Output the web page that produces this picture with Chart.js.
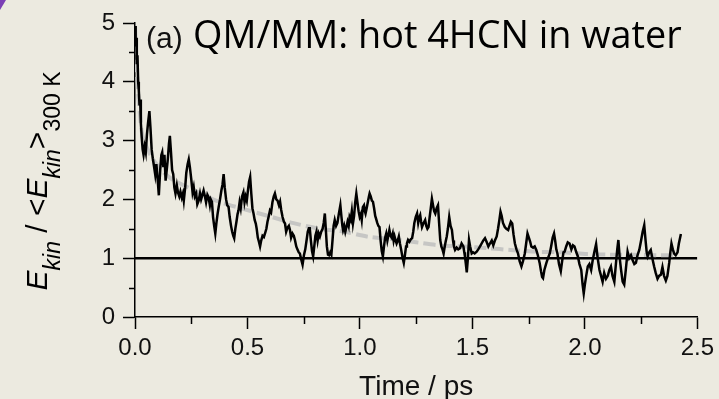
<!DOCTYPE html>
<html>
<head>
<meta charset="utf-8">
<title>QM/MM: hot 4HCN in water</title>
<script src="https://cdn.jsdelivr.net/npm/chart.js@4.4.0/dist/chart.umd.min.js"></script>
<style>
    html, body { margin: 0; padding: 0; background: #eceae0; }
    .wrap { position: relative; width: 719px; height: 399px; overflow: hidden; }
    .corner { position: absolute; left: 0; top: 0; width: 6px; height: 10px; background: #7b3fb5;
              clip-path: polygon(0 0, 100% 0, 0 100%); }
</style>
</head>
<body>
<div class="wrap">
    <canvas id="kinChart" width="719" height="399"></canvas>
    <div class="corner"></div>
</div>
<script>
// Kinetic energy ratio of hot 4HCN in water (QM/MM)
const timePs = [
    0.000, 0.003, 0.006, 0.008, 0.011, 0.014, 0.017, 0.020, 0.023, 0.026, 0.030, 0.034, 0.038, 0.043, 0.048, 0.053,
    0.058, 0.064, 0.069, 0.074, 0.079, 0.085, 0.090, 0.095, 0.100, 0.106, 0.112, 0.117, 0.121, 0.126, 0.131, 0.136,
    0.141, 0.146, 0.151, 0.155, 0.160, 0.165, 0.170, 0.175, 0.180, 0.186, 0.191, 0.197, 0.202, 0.208, 0.213, 0.217,
    0.223, 0.228, 0.234, 0.239, 0.244, 0.250, 0.256, 0.261, 0.266, 0.272, 0.277, 0.283, 0.289, 0.294, 0.300, 0.305,
    0.311, 0.316, 0.322, 0.327, 0.333, 0.337, 0.342, 0.347, 0.352, 0.357, 0.362, 0.367, 0.372, 0.378, 0.384, 0.389,
    0.394, 0.399, 0.405, 0.410, 0.416, 0.421, 0.427, 0.432, 0.437, 0.441, 0.446, 0.451, 0.456, 0.460, 0.465, 0.470,
    0.476, 0.482, 0.487, 0.492, 0.497, 0.502, 0.507, 0.512, 0.517, 0.522, 0.527, 0.532, 0.537, 0.541, 0.546, 0.551,
    0.556, 0.561, 0.567, 0.573, 0.578, 0.584, 0.589, 0.595, 0.600, 0.605, 0.611, 0.617, 0.622, 0.628, 0.634, 0.640,
    0.645, 0.650, 0.656, 0.662, 0.667, 0.672, 0.678, 0.684, 0.689, 0.694, 0.700, 0.706, 0.711, 0.717, 0.722, 0.728,
    0.733, 0.739, 0.745, 0.751, 0.757, 0.763, 0.768, 0.773, 0.777, 0.782, 0.787, 0.792, 0.797, 0.802, 0.807, 0.812,
    0.817, 0.822, 0.828, 0.834, 0.839, 0.844, 0.849, 0.853, 0.858, 0.863, 0.868, 0.873, 0.878, 0.883, 0.888, 0.894,
    0.900, 0.906, 0.913, 0.918, 0.922, 0.925, 0.930, 0.935, 0.940, 0.945, 0.950, 0.954, 0.959, 0.964, 0.969, 0.974,
    0.979, 0.984, 0.989, 0.994, 0.999, 1.004, 1.008, 1.013, 1.018, 1.022, 1.025, 1.030, 1.035, 1.040, 1.043, 1.048,
    1.053, 1.058, 1.063, 1.068, 1.072, 1.077, 1.082, 1.087, 1.092, 1.097, 1.102, 1.107, 1.112, 1.117, 1.122, 1.127,
    1.131, 1.136, 1.141, 1.146, 1.150, 1.154, 1.158, 1.163, 1.168, 1.173, 1.178, 1.183, 1.190, 1.195, 1.200, 1.205,
    1.209, 1.214, 1.220, 1.226, 1.232, 1.237, 1.242, 1.248, 1.254, 1.259, 1.263, 1.268, 1.272, 1.276, 1.281, 1.286,
    1.290, 1.295, 1.300, 1.305, 1.310, 1.315, 1.320, 1.325, 1.330, 1.335, 1.341, 1.347, 1.352, 1.357, 1.362, 1.367,
    1.372, 1.377, 1.381, 1.386, 1.391, 1.397, 1.403, 1.409, 1.414, 1.418, 1.423, 1.430, 1.437, 1.445, 1.452, 1.460,
    1.464, 1.467, 1.471, 1.475, 1.480, 1.485, 1.490, 1.497, 1.503, 1.510, 1.519, 1.526, 1.534, 1.541, 1.548, 1.556,
    1.563, 1.571, 1.578, 1.586, 1.593, 1.600, 1.608, 1.614, 1.620, 1.625, 1.630, 1.636, 1.644, 1.651, 1.659, 1.665,
    1.671, 1.677, 1.683, 1.689, 1.696, 1.703, 1.710, 1.718, 1.725, 1.733, 1.739, 1.745, 1.751, 1.757, 1.762, 1.770,
    1.777, 1.784, 1.791, 1.799, 1.805, 1.810, 1.814, 1.820, 1.829, 1.836, 1.844, 1.850, 1.857, 1.863, 1.868, 1.873,
    1.878, 1.885, 1.893, 1.899, 1.905, 1.910, 1.917, 1.924, 1.932, 1.940, 1.947, 1.954, 1.962, 1.969, 1.976, 1.984,
    1.990, 1.995, 2.000, 2.006, 2.013, 2.020, 2.028, 2.035, 2.042, 2.050, 2.057, 2.065, 2.072, 2.079, 2.086, 2.094,
    2.102, 2.109, 2.116, 2.123, 2.131, 2.138, 2.144, 2.149, 2.155, 2.161, 2.168, 2.175, 2.182, 2.190, 2.197, 2.205,
    2.212, 2.220, 2.227, 2.234, 2.242, 2.250, 2.257, 2.264, 2.270, 2.275, 2.279, 2.286, 2.293, 2.300, 2.308, 2.315,
    2.323, 2.330, 2.338, 2.345, 2.352, 2.360, 2.367, 2.375, 2.380, 2.385, 2.391, 2.397, 2.404, 2.412, 2.418, 2.427
];
const kinRatio = [
    4.95, 4.60, 4.75, 4.30, 4.45, 4.00, 3.85, 3.60, 3.70, 3.30, 3.05, 2.85, 2.76, 2.90, 2.80, 3.10,
    3.30, 3.50, 3.20, 2.85, 2.70, 2.55, 2.42, 2.60, 2.38, 2.07, 2.50, 2.75, 2.80, 2.55, 2.76, 2.32,
    2.50, 2.69, 2.95, 3.08, 2.80, 2.50, 2.43, 2.20, 2.10, 2.24, 2.12, 2.05, 2.13, 2.03, 2.10, 1.98,
    2.20, 2.45, 2.60, 2.68, 2.55, 2.35, 2.12, 2.21, 2.05, 2.10, 1.92, 1.98, 2.10, 2.00, 2.08, 2.15,
    2.05, 1.95, 2.08, 2.04, 1.90, 2.00, 1.96, 1.70, 1.55, 1.42, 1.60, 1.75, 1.87, 2.00, 2.15, 2.25,
    2.43, 2.20, 2.00, 1.90, 1.87, 1.70, 1.55, 1.45, 1.38, 1.34, 1.50, 1.62, 1.75, 1.81, 1.95, 1.85,
    2.05, 2.12, 1.95, 2.05, 1.98, 2.15, 2.30, 2.38, 2.10, 1.85, 1.76, 1.65, 1.59, 1.50, 1.35, 1.28,
    1.20, 1.30, 1.38, 1.36, 1.42, 1.50, 1.62, 1.72, 1.81, 1.78, 1.95, 2.05, 2.10, 2.00, 1.98, 1.90,
    1.96, 1.82, 1.70, 1.62, 1.59, 1.45, 1.52, 1.55, 1.48, 1.35, 1.42, 1.38, 1.31, 1.20, 1.15, 1.10,
    1.08, 0.98, 0.89, 1.05, 1.15, 1.31, 1.45, 1.51, 1.51, 1.30, 1.12, 1.03, 1.20, 1.38, 1.45, 1.30,
    1.42, 1.37, 1.45, 1.50, 1.60, 1.76, 1.45, 1.20, 1.06, 1.05, 1.10, 1.06, 1.30, 1.55, 1.65, 1.55,
    1.60, 1.75, 1.90, 1.70, 1.55, 1.48, 1.55, 1.45, 1.53, 1.62, 1.55, 1.70, 1.65, 1.80, 1.59, 1.72,
    1.95, 2.10, 1.95, 1.80, 1.70, 1.75, 1.65, 1.87, 1.90, 1.80, 1.76, 1.85, 1.95, 2.05, 2.10, 2.05,
    1.98, 1.96, 1.85, 1.72, 1.67, 1.60, 1.55, 1.53, 1.30, 1.12, 1.03, 1.20, 1.35, 1.42, 1.30, 1.40,
    1.48, 1.38, 1.35, 1.42, 1.30, 1.37, 1.31, 1.25, 1.30, 1.37, 1.25, 1.15, 1.00, 0.92, 1.05, 1.20,
    1.25, 1.31, 1.28, 1.32, 1.34, 1.45, 1.60, 1.70, 1.76, 1.60, 1.68, 1.73, 1.62, 1.53, 1.58, 1.62,
    1.65, 1.55, 1.50, 1.53, 1.70, 1.85, 2.01, 1.90, 1.80, 1.76, 1.85, 1.90, 1.60, 1.31, 1.20, 1.15,
    1.08, 1.20, 1.28, 1.37, 1.50, 1.70, 1.55, 1.48, 1.30, 1.20, 1.14, 1.18, 1.15, 1.17, 1.25, 1.20,
    1.10, 1.03, 0.90, 0.76, 1.00, 1.31, 1.20, 1.08, 1.10, 1.08, 1.11, 1.15, 1.20, 1.25, 1.30, 1.34,
    1.28, 1.20, 1.25, 1.30, 1.22, 1.30, 1.37, 1.50, 1.65, 1.79, 1.72, 1.60, 1.53, 1.50, 1.48, 1.55,
    1.62, 1.59, 1.40, 1.25, 1.15, 1.08, 0.95, 0.86, 0.95, 1.08, 1.25, 1.42, 1.35, 1.28, 1.20, 1.18,
    1.20, 1.14, 1.05, 0.92, 0.78, 0.68, 0.66, 0.80, 0.92, 1.00, 1.08, 1.20, 1.35, 1.42, 1.30, 1.15,
    1.08, 0.90, 0.78, 0.95, 1.10, 1.11, 1.20, 1.27, 1.25, 1.15, 1.22, 1.20, 1.10, 1.03, 0.90, 0.80,
    0.55, 0.40, 0.55, 0.70, 0.86, 0.90, 0.80, 0.97, 1.10, 1.24, 1.00, 0.80, 0.70, 0.60, 0.75, 0.65,
    0.70, 0.80, 0.86, 0.70, 0.60, 0.90, 1.15, 1.31, 1.00, 0.80, 0.60, 0.55, 0.80, 1.11, 1.00, 1.05,
    0.97, 0.90, 0.92, 1.05, 1.14, 1.30, 1.45, 1.56, 1.30, 1.10, 1.03, 1.10, 1.14, 1.00, 0.86, 0.75,
    0.65, 0.70, 0.72, 0.85, 0.70, 0.62, 0.70, 0.92, 1.10, 1.25, 1.15, 1.08, 1.05, 1.10, 1.25, 1.41
];

// Grey dashed fit curve
const fitTimePs = [0.000, 0.005, 0.010, 0.015, 0.022, 0.030, 0.040, 0.060, 0.080, 0.100, 0.130, 0.170, 0.250,
    0.360, 0.480, 0.600, 0.700, 0.820, 0.930, 1.030, 1.150, 1.250, 1.350, 1.460, 1.570, 1.670, 1.790, 1.900,
    2.010, 2.110, 2.220, 2.330, 2.400];
const fitRatio = [4.95, 4.50, 4.10, 3.75, 3.45, 3.15, 3.00, 2.82, 2.68, 2.58, 2.45, 2.33, 2.18,
    1.98, 1.84, 1.71, 1.60, 1.50, 1.45, 1.37, 1.32, 1.27, 1.22, 1.20, 1.17, 1.14, 1.11, 1.10,
    1.07, 1.06, 1.06, 1.05, 1.05];

// Reference level (equilibrium at 300 K)
const refLevel = 1;
const refSpanPs = [0, 2.5];

// Axis ticks
const xTickValues = [0, 0.5, 1.0, 1.5, 2.0, 2.5];
const xMinorTicks = [0.25, 0.75, 1.25, 1.75, 2.25];
const yTickValues = [0, 1, 2, 3, 4, 5];
const yMinorTicks = [0.5, 1.5, 2.5, 3.5, 4.5];

const FONT = '"Liberation Sans", Arial, sans-serif';

// Short ticks between the labelled ones
const minorTicksPlugin = {
    id: 'minorTicks',
    afterDraw(chart) {
        const ctx = chart.ctx;
        const xs = chart.scales.x;
        const ys = chart.scales.y;
        ctx.save();
        ctx.strokeStyle = '#000';
        ctx.lineWidth = 1.5;
        ctx.beginPath();
        xMinorTicks.forEach(v => {
            const px = Math.round(xs.getPixelForValue(v)) + 0.5;
            ctx.moveTo(px, xs.top);
            ctx.lineTo(px, xs.top + 7);
        });
        yMinorTicks.forEach(v => {
            const py = Math.round(ys.getPixelForValue(v)) + 0.5;
            ctx.moveTo(ys.right, py);
            ctx.lineTo(ys.right - 6, py);
        });
        ctx.stroke();
        ctx.restore();
    }
};

// Rotated y title with italics and subscripts
const yTitlePlugin = {
    id: 'yTitle',
    afterDraw(chart) {
        const ctx = chart.ctx;
        const parts = [
            { text: 'E', size: 30, italic: true, sub: false },
            { text: 'kin', size: 23, italic: true, sub: true },
            { text: ' / <', size: 30, italic: false, sub: false },
            { text: 'E', size: 30, italic: true, sub: false },
            { text: 'kin', size: 23, italic: true, sub: true },
            { text: '>', size: 30, italic: false, sub: false },
            { text: '300 K', size: 23, italic: false, sub: true }
        ];
        const fontOf = p => (p.italic ? 'italic ' : '') + p.size + 'px ' + FONT;
        let total = 0;
        parts.forEach(p => {
            ctx.font = fontOf(p);
            p.w = ctx.measureText(p.text).width;
            total += p.w;
        });
        ctx.save();
        ctx.translate(47, 181);
        ctx.rotate(-Math.PI / 2);
        ctx.fillStyle = '#000';
        ctx.textBaseline = 'alphabetic';
        let x = -total / 2;
        parts.forEach(p => {
            ctx.font = fontOf(p);
            ctx.fillText(p.text, x, p.sub ? 13 : 0);
            x += p.w;
        });
        ctx.restore();
    }
};

// Panel caption at the top
const captionPlugin = {
    id: 'caption',
    afterDraw(chart) {
        const ctx = chart.ctx;
        ctx.save();
        ctx.fillStyle = '#111';
        ctx.textBaseline = 'alphabetic';
        ctx.font = '30px ' + FONT;
        ctx.fillText('(a)', 146, 48);
        const caption = 'QM/MM: hot 4HCN in water';
        ctx.font = '36px "Open Sans"';
        const w = ctx.measureText(caption).width;
        const size = 36 * 489 / w;
        ctx.font = size.toFixed(1) + 'px "Open Sans"';
        ctx.fillStyle = '#000';
        ctx.fillText(caption, 193, 48);
        ctx.restore();
    }
};

const ctx = document.getElementById('kinChart').getContext('2d');
new Chart(ctx, {
    type: 'line',
    data: {
        datasets: [
            {
                label: 'ref',
                data: refSpanPs.map(t => ({ x: t, y: refLevel })),
                borderColor: '#000',
                borderWidth: 2.5,
                pointRadius: 0,
                order: 3
            },
            {
                label: 'fit',
                data: fitTimePs.map((t, i) => ({ x: t, y: fitRatio[i] })),
                borderColor: '#c6c6c4',
                borderWidth: 4,
                borderDash: [12, 5],
                pointRadius: 0,
                tension: 0.3,
                order: 2
            },
            {
                label: 'Ekin',
                data: timePs.map((t, i) => ({ x: t, y: kinRatio[i] })),
                borderColor: '#000',
                borderWidth: 2.5,
                pointRadius: 0,
                tension: 0,
                order: 1
            }
        ]
    },
    options: {
        responsive: false,
        animation: false,
        events: [],
        layout: { padding: { top: 23, right: 19, left: 0, bottom: 0 } },
        plugins: {
            legend: { display: false },
            tooltip: { enabled: false }
        },
        scales: {
            x: {
                type: 'linear',
                min: 0,
                max: 2.5,
                afterBuildTicks: scale => { scale.ticks = xTickValues.map(v => ({ value: v })); },
                afterFit: scale => { scale.height = 82; },
                border: { display: true, color: '#000', width: 1.5 },
                grid: { drawOnChartArea: false, drawTicks: true, tickLength: 12, tickWidth: 1.5, tickColor: '#000' },
                ticks: {
                    color: '#111',
                    padding: 5,
                    maxRotation: 0,
                    font: { family: FONT, size: 24 },
                    callback: v => Number(v).toFixed(1)
                },
                title: {
                    display: true,
                    text: 'Time / ps',
                    color: '#111',
                    padding: { top: 0, bottom: -5 },
                    font: { family: FONT, size: 28 }
                }
            },
            y: {
                type: 'linear',
                min: 0,
                max: 5,
                afterBuildTicks: scale => { scale.ticks = yTickValues.map(v => ({ value: v })); },
                afterFit: scale => { scale.width = 135; },
                border: { display: true, color: '#000', width: 1.5 },
                grid: { drawOnChartArea: false, drawTicks: true, tickLength: 12, tickWidth: 1.5, tickColor: '#000' },
                ticks: {
                    color: '#111',
                    padding: 8,
                    font: { family: FONT, size: 24 },
                    callback: v => String(v)
                }
            }
        }
    },
    plugins: [minorTicksPlugin, yTitlePlugin, captionPlugin]
});
</script>
</body>
</html>
